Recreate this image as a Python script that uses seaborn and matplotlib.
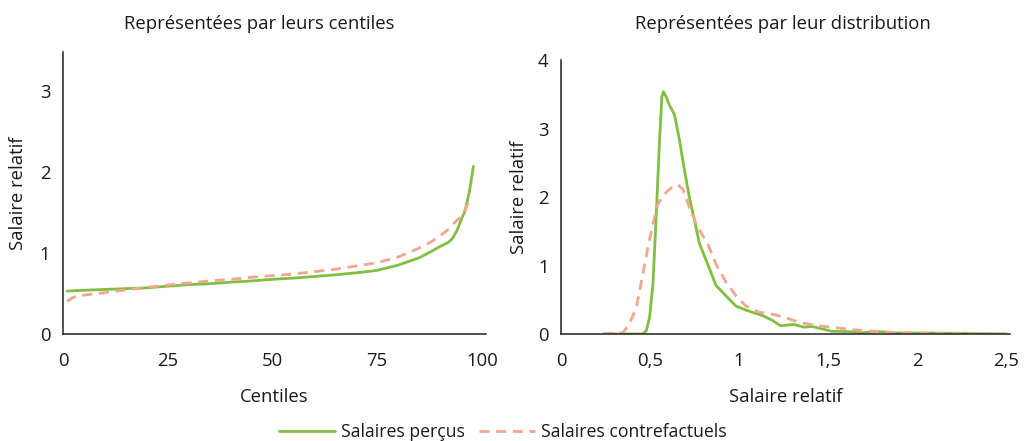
import numpy as np
import pandas as pd
import matplotlib
matplotlib.use("Agg")
import matplotlib.pyplot as plt
import seaborn as sns

# --- Data -----------------------------------------------------------------
# Left panel: relative wage by centile
centiles_percus = [1, 5, 10, 15, 20, 25, 30, 35, 40, 45, 50, 55, 60, 65, 70,
                   75, 80, 85, 88, 90, 92, 93, 94, 95, 96, 97, 98]
salaire_percus = [0.53, 0.54, 0.55, 0.56, 0.57, 0.59, 0.61, 0.62, 0.64, 0.655,
                  0.675, 0.69, 0.71, 0.73, 0.755, 0.785, 0.85, 0.94, 1.02, 1.08,
                  1.13, 1.18, 1.27, 1.40, 1.52, 1.75, 2.07]

centiles_contref = [1, 2, 3, 5, 10, 15, 20, 25, 30, 35, 40, 45, 50, 55, 60, 65,
                    70, 75, 80, 85, 88, 90, 92, 93, 94, 95, 96, 97.4]
salaire_contref = [0.40, 0.44, 0.46, 0.48, 0.51, 0.545, 0.575, 0.605, 0.63,
                   0.655, 0.675, 0.70, 0.72, 0.74, 0.77, 0.80, 0.84, 0.88, 0.95,
                   1.06, 1.14, 1.21, 1.29, 1.35, 1.40, 1.44, 1.53, 1.70]

# Right panel: density of relative wage
x_percus = [0.236, 0.46, 0.479, 0.497, 0.516, 0.534, 0.553, 0.566, 0.575, 0.59,
            0.609, 0.637, 0.665, 0.693, 0.72, 0.749, 0.777, 0.823, 0.87, 0.925,
            0.981, 1.037, 1.13, 1.186, 1.233, 1.307, 1.363, 1.41, 1.52, 1.61,
            1.69, 1.78, 1.89, 2.08, 2.5]
dens_percus = [0.0, 0.0, 0.05, 0.24, 0.73, 1.71, 2.83, 3.46, 3.54, 3.46, 3.34,
               3.2, 2.83, 2.39, 2.0, 1.66, 1.32, 1.02, 0.71, 0.56, 0.41, 0.35,
               0.27, 0.20, 0.12, 0.14, 0.10, 0.11, 0.04, 0.035, 0.02, 0.035,
               0.015, 0.015, 0.0]

x_contref = [0.236, 0.348, 0.385, 0.423, 0.46, 0.488, 0.516, 0.544, 0.59, 0.628,
             0.655, 0.683, 0.72, 0.767, 0.823, 0.87, 0.925, 0.981, 1.037, 1.11,
             1.205, 1.28, 1.354, 1.447, 1.52, 1.63, 1.745, 1.89, 2.17, 2.5]
dens_contref = [0.0, 0.02, 0.15, 0.39, 0.88, 1.27, 1.61, 1.9, 2.07, 2.15, 2.18,
                2.12, 1.85, 1.56, 1.32, 1.02, 0.76, 0.56, 0.41, 0.32, 0.28, 0.22,
                0.16, 0.12, 0.10, 0.065, 0.04, 0.02, 0.005, 0.0]

series_names = ["Salaires perçus", "Salaires contrefactuels"]
left_xticks = [0, 25, 50, 75, 100]
left_yticks = [0, 1, 2, 3]
right_xticks = [0, 0.5, 1, 1.5, 2, 2.5]
right_xticklabels = ["0", "0,5", "1", "1,5", "2", "2,5"]
right_yticks = [0, 1, 2, 3, 4]

# --- Style ----------------------------------------------------------------
sns.set_theme(style="white")
plt.rcParams["font.family"] = ["Open Sans", "DejaVu Sans"]
GREEN = "#80bf40"
SALMON = "#f2a68d"
TEXT = "#1a1a1a"
FS = 13.3
DASH = (3.6, 2.4)

palette = {series_names[0]: GREEN, series_names[1]: SALMON}
dashes = {series_names[0]: "", series_names[1]: DASH}

left_df = pd.concat([
    pd.DataFrame({"x": centiles_percus, "y": salaire_percus, "serie": series_names[0]}),
    pd.DataFrame({"x": centiles_contref, "y": salaire_contref, "serie": series_names[1]}),
])
right_df = pd.concat([
    pd.DataFrame({"x": x_percus, "y": dens_percus, "serie": series_names[0]}),
    pd.DataFrame({"x": x_contref, "y": dens_contref, "serie": series_names[1]}),
])

fig = plt.figure(figsize=(10.26, 4.41), dpi=100)
ax1 = fig.add_axes([0.0614, 0.2426, 0.4123, 0.6395])
ax2 = fig.add_axes([0.5468, 0.2426, 0.4376, 0.6213])

for ax, df in ((ax1, left_df), (ax2, right_df)):
    sns.lineplot(data=df, x="x", y="y", hue="serie", style="serie",
                 palette=palette, dashes=dashes, linewidth=2.0,
                 sort=False, estimator=None, legend=False, ax=ax)
    for side in ("top", "right"):
        ax.spines[side].set_visible(False)
    for side in ("left", "bottom"):
        ax.spines[side].set_color("#222222")
        ax.spines[side].set_linewidth(1.1)
    ax.tick_params(axis="x", length=0, labelsize=FS, colors=TEXT, pad=13)
    ax.tick_params(axis="y", length=0, labelsize=FS, colors=TEXT, pad=9)
    ax.grid(False)

ax1.set_xlim(0, 101)
ax1.set_ylim(0, 3.48)
ax1.set_xticks(left_xticks)
ax1.set_yticks(left_yticks)
ax1.set_xlabel("Centiles", fontsize=FS, color=TEXT, labelpad=13)
ax1.set_ylabel("Salaire relatif", fontsize=FS, color=TEXT, labelpad=9)

ax2.set_xlim(0, 2.52)
ax2.set_ylim(0, 4)
ax2.set_xticks(right_xticks)
ax2.set_xticklabels(right_xticklabels)
ax2.set_yticks(right_yticks)
ax2.set_xlabel("Salaire relatif", fontsize=FS, color=TEXT, labelpad=13)
ax2.set_ylabel("Salaire relatif", fontsize=FS, color=TEXT, labelpad=7)

fig.text(0.2524, 0.945, "Représentées par leurs centiles", ha="center",
         va="center", fontsize=FS, color=TEXT)
fig.text(0.7632, 0.945, "Représentées par leur distribution", ha="center",
         va="center", fontsize=FS, color=TEXT)

handles = [
    plt.Line2D([], [], color=GREEN, linewidth=2.0),
    plt.Line2D([], [], color=SALMON, linewidth=2.0, dashes=DASH),
]
fig.legend(handles, series_names, loc="center", bbox_to_anchor=(0.49, 0.02),
           ncol=2, frameon=False, fontsize=FS - 0.6, handlelength=3.2,
           handletextpad=0.32, columnspacing=0.8, labelcolor=TEXT,
           borderpad=0, borderaxespad=0)

fig.savefig("out.png", dpi=100)
